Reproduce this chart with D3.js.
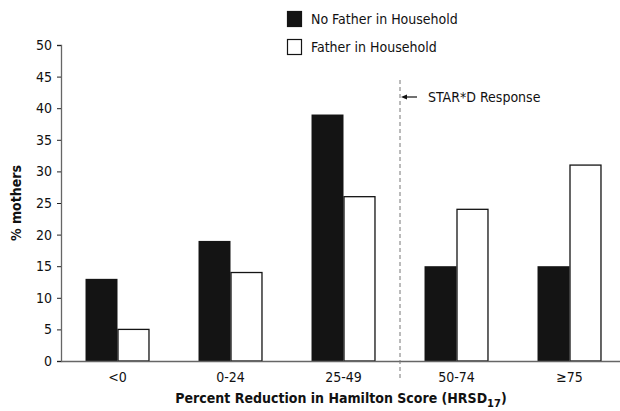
<!DOCTYPE html>
<html>
<head>
<meta charset="utf-8">
<script src="https://cdn.jsdelivr.net/npm/d3@7"></script>
<style>
  body { margin: 0; background: #fff; }
  svg text { font-family: "Liberation Sans Narrow", "DejaVu Sans Condensed", "Noto Sans", sans-serif; fill: #111; }
</style>
</head>
<body>
<svg width="620" height="411"></svg>
<script>
// data
var categories = ["<0", "0-24", "25-49", "50-74", "\u226575"];
var noFather = [13, 19, 39, 15, 15];
var withFather = [5, 14, 26, 24, 31];
var seriesNames = ["No Father in Household", "Father in Household"];
var yTicks = [0, 5, 10, 15, 20, 25, 30, 35, 40, 45, 50];
var responseAt = 3; // STAR*D response line sits before this category

var svg = d3.select("svg");
var plotL = 61, plotR = 626, plotT = 45, plotB = 361;

var x = d3.scaleBand()
	.domain(categories)
	.range([plotL, plotR])
	.paddingInner(0.434)
	.paddingOuter(0.217);

var xs = d3.scaleBand()
	.domain([0, 1])
	.range([0, x.bandwidth()]);

var y = d3.scaleLinear()
	.domain([0, 50])
	.range([plotB, plotT]);

var rows = categories.map(function(c, i) {
	return { cat: c, vals: [noFather[i], withFather[i]] };
});

// bars
var g = svg.append("g").selectAll("g")
	.data(rows)
	.enter().append("g")
	.attr("transform", function(d) { return "translate(" + x(d.cat) + ",0)"; });

g.selectAll("rect")
	.data(function(d) { return d.vals; })
	.enter().append("rect")
	.attr("x", function(d, i) { return xs(i) + (i == 1 ? 0.5 : 0); })
	.attr("y", function(d) { return y(d); })
	.attr("width", function(d, i) { return xs.bandwidth() - (i == 1 ? 1 : 0); })
	.attr("height", function(d) { return y(0) - y(d); })
	.attr("fill", function(d, i) { return i == 0 ? "#141414" : "#fff"; })
	.attr("stroke", function(d, i) { return i == 0 ? "none" : "#141414"; })
	.attr("stroke-width", 1.3);

// y axis
var yAxis = svg.append("g")
	.attr("transform", "translate(" + plotL + ",0)")
	.call(d3.axisLeft(y).tickValues(yTicks).tickSize(4).tickPadding(5));
yAxis.select(".domain").attr("stroke", "#666").attr("stroke-width", 1.3);
yAxis.selectAll(".tick line").attr("stroke", "#222");
yAxis.selectAll("text").style("font-size", "14px");

// x axis
var xAxis = svg.append("g")
	.attr("transform", "translate(0," + plotB + ")")
	.call(d3.axisBottom(x).tickSize(0).tickPadding(11));
xAxis.select(".domain").attr("stroke", "#666").attr("stroke-width", 1.3);
xAxis.selectAll("text").style("font-size", "14px");

// STAR*D response marker
var lineX = (x(categories[responseAt - 1]) + x.bandwidth() + x(categories[responseAt])) / 2;
svg.append("line")
	.attr("x1", lineX).attr("x2", lineX)
	.attr("y1", 80).attr("y2", 378)
	.attr("stroke", "#777")
	.attr("stroke-width", 1)
	.attr("stroke-dasharray", "4,3");

svg.append("line")
	.attr("x1", lineX + 17).attr("x2", lineX + 5)
	.attr("y1", 97).attr("y2", 97)
	.attr("stroke", "#111")
	.attr("stroke-width", 1.2);
svg.append("path")
	.attr("d", "M" + (lineX + 1) + ",97 L" + (lineX + 7) + ",94.5 L" + (lineX + 7) + ",99.5 Z")
	.attr("fill", "#111");

svg.append("text")
	.attr("x", lineX + 28).attr("y", 102)
	.style("font-size", "14px")
	.text("STAR*D Response");

// legend
var leg = svg.append("g").selectAll("g")
	.data(seriesNames)
	.enter().append("g")
	.attr("transform", function(d, i) { return "translate(287," + (11 + i * 28) + ")"; });
leg.append("rect")
	.attr("x", 0.5).attr("y", 0.5)
	.attr("width", 14).attr("height", 15)
	.attr("fill", function(d, i) { return i == 0 ? "#141414" : "#fff"; })
	.attr("stroke", "#141414")
	.attr("stroke-width", 1.2);
leg.append("text")
	.attr("x", 24).attr("y", 13)
	.style("font-size", "14px")
	.text(function(d) { return d; });

// axis titles
svg.append("text")
	.attr("transform", "translate(21," + ((plotT + plotB) / 2) + ") rotate(-90)")
	.attr("text-anchor", "middle")
	.style("font-size", "14px")
	.style("font-weight", "bold")
	.text("% mothers");

var xt = svg.append("text")
	.attr("x", 341).attr("y", 403)
	.attr("text-anchor", "middle")
	.style("font-size", "14px")
	.style("font-weight", "bold");
xt.append("tspan").text("Percent Reduction in Hamilton Score (HRSD");
xt.append("tspan").attr("dy", 4).style("font-size", "11px").text("17");
xt.append("tspan").attr("dy", -4).text(")");
</script>
</body>
</html>
